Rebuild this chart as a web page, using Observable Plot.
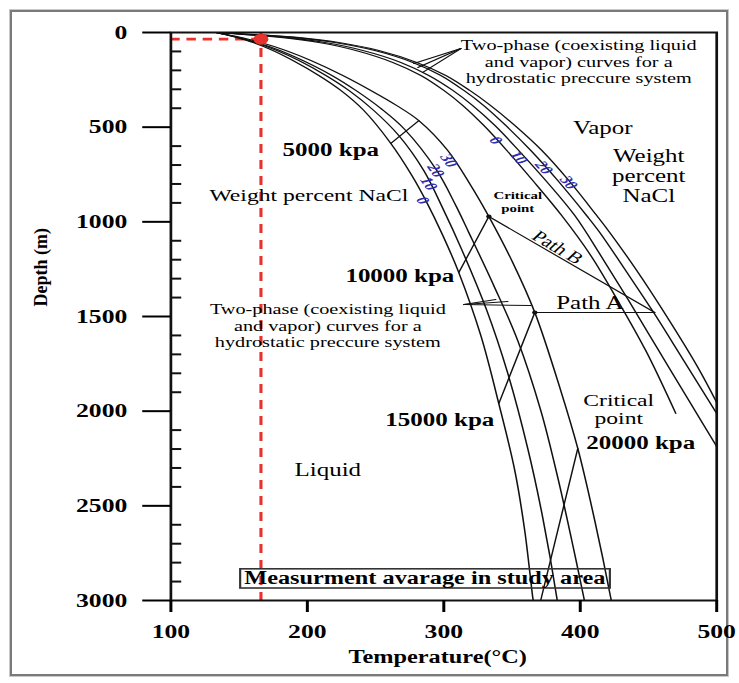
<!DOCTYPE html>
<html><head><meta charset="utf-8">
<script src="https://cdn.jsdelivr.net/npm/d3@7"></script>
<script src="https://cdn.jsdelivr.net/npm/@observablehq/plot@0.6"></script>
<style>
html,body{margin:0;padding:0;background:#fff;}
#wrap{position:relative;width:739px;height:683px;overflow:hidden;background:#fff;}
#border{position:absolute;left:10px;top:10px;width:714px;height:662px;border:2px solid #7a7a7a;box-shadow:0 0 0 1px #c8c8c8;}
#chart{position:absolute;left:0;top:0;width:739px;}
</style></head><body>
<div id="wrap"><div id="border"></div><div id="chart"></div></div>
<script>
// ---- axis ticks ----
const xTicks = [100, 200, 300, 400, 500];
const yTicks = [0, 500, 1000, 1500, 2000, 2500, 3000];
const yMinorTicks = [100,200,300,400,600,700,800,900,1100,1200,1300,1400,1600,1700,1800,1900,2100,2200,2300,2400,2600,2700,2800,2900];

// ---- boiling-point curves, liquid side: [temperature °C, depth m] ----
const liquid0  = [[133,0],[145.4,21],[160.1,53],[174.7,95],[189.4,148],[208.4,227],[224.5,306],[241.4,412],[261.2,586],[276.6,755],[286.8,887],[299.3,1072],[311.0,1268],[327.1,1600],[340.3,1960],[352.0,2313],[359.3,2630],[365.2,2984],[365.6,3000]];
const liquid10 = [[133,0],[146.2,21],[161.5,53],[177.7,95],[193.8,148],[213.6,227],[230.4,306],[248.7,412],[267.0,544],[285.3,729],[300.0,940],[312.5,1136],[331.5,1468],[346.9,1801],[361.5,2197],[372.5,2562],[382.8,2984],[383.1,3000]];
const liquid20 = [[133,0],[146.9,21],[163.0,53],[179.9,95],[196.7,148],[218.0,227],[235.5,306],[253.8,401],[270.7,507],[294.9,729],[308.8,914],[318.3,1056],[336.6,1336],[354.2,1627],[371.1,1997],[383.5,2350],[393.8,2683],[402.6,2984],[403.0,3000]];
const liquid30 = [[133,0],[148.4,21],[165.9,53],[184.2,95],[202.6,148],[226.0,227],[246.5,306],[265.6,386],[281.7,465],[302.9,623],[319.8,808],[333.0,972],[350.5,1215],[366.7,1479],[385.7,1891],[398.2,2197],[410.6,2577],[422.3,2984],[422.7,3000]];

// ---- two-phase curves, vapor side ----
const vapor0  = [[133,0],[154.9,11],[180.6,26],[208.4,53],[235.5,95],[262.6,158],[283.2,227],[300.0,306],[314.0,386],[329.3,491],[346.2,623],[365.2,782],[386.4,967],[407.7,1178],[427.5,1416],[448.0,1680],[470.0,2012]];
const vapor10 = [[133,0],[157.1,11],[184.2,26],[212.8,53],[240.7,95],[268.5,158],[289.0,227],[306.6,306],[321.2,386],[337.4,491],[354.9,623],[374.7,782],[396.0,967],[415.0,1178],[435.5,1416],[457.5,1680],[479.6,1944],[500,2187]];
const vapor20 = [[133,0],[160.1,11],[190.1,26],[220.1,53],[249.4,95],[277.3,158],[297.8,227],[314.7,306],[329.3,386],[345.4,491],[363.7,623],[383.5,782],[404.7,967],[414.3,1056],[433.3,1257],[453.8,1479],[475.8,1732],[500,2012]];
const vapor30 = [[133,0],[161.5,11],[192.3,26],[223.1,53],[252.4,95],[280.2,158],[301.5,227],[319.0,306],[334.4,386],[352.0,491],[371.8,623],[391.6,782],[412.1,967],[421.6,1056],[441.4,1257],[459.7,1458],[485.4,1759],[500,1954]];

// ---- isobars and paths ----
const isobar5000  = [[261.2,586],[281.7,465]];
const isobar10000 = [[311.0,1268],[333.0,972]];
const isobar15000 = [[340.3,1960],[366.7,1479]];
const isobar20000 = [[371,3000],[398.2,2197]];
const pathB = [[333.0,972],[454.6,1479]];
const pathA = [[366.7,1479],[454.6,1479]];
const pointerTop = [[[312.5,85],[278,164]],[[312.5,85],[281,185]],[[312.5,85],[284.6,211]]];
const pointerLow = [[[314.7,1437],[363.7,1442]],[[314.7,1437],[338.1,1410]],[[314.7,1437],[346.9,1421]]];
const criticalPoints = [[333.0,972],[366.7,1479]];

// ---- study-area measurement ----
const studyTemperature = [166];
const studyDepth = [35];

// ---- labels [text, temperature, depth] ----
const blueLiquidLabels = [["30",303.7,676],["20",294.1,729],["10",289.0,798],["0",284.6,887]];
const blueVaporLabels  = [["0",338.1,570],["10",354.9,660],["20",373.3,713],["30",391.6,792]];
const pressureLabels = [["5000 kpa",217.2,623],["10000 kpa",267.8,1289],["15000 kpa",297.1,2049],["20000 kpa",444.3,2166]];
const twoPhaseLabels = [["Two-phase (coexisting liquid\nand vapor) curves for a\nhydrostatic preccure system",398.9,153],
                        ["Two-phase (coexisting liquid\nand vapor) curves for a\nhydrostatic preccure system",215.0,1548]];
const regionLabels = [["Vapor",416.5,507],["Liquid",215.0,2313],["Path A",407,1431]];
const weightLabelRight = [["Weight\npercent\nNaCl",450.2,755]];
const weightLabelLeft = [["Weight percent NaCl",201.1,861]];
const criticalSmall = [["Critical\npoint",354.2,893]];
const criticalLarge = [["Critical\npoint",428.2,1991]];
const pathBLabel = [["Path B",383.5,1136]];
const studyAreaLabel = [["Measurment avarage in study area",286.1,2884]];

// ---- build tables ----
const K = 1.351;           // horizontal stretch of the reference picture
const W = 547, H = 683;
const mL = 126, mR = 17, mT = 32, mB = 83;
const frameW = W - mL - mR;

const rows = (groups) => groups.flatMap(([id, pts]) => pts.map(([T, D]) => ({id, T, D})));
const curveRows = rows([["l0",liquid0],["l10",liquid10],["l20",liquid20],["l30",liquid30],
                        ["v0",vapor0],["v10",vapor10],["v20",vapor20],["v30",vapor30]]);
const segRows = rows([["i5",isobar5000],["i10",isobar10000],["i15",isobar15000],["i20",isobar20000],
                      ["pb",pathB],["pa",pathA],
                      ...pointerTop.map((p,i)=>["pt"+i,p]), ...pointerLow.map((p,i)=>["pl"+i,p])]);
const lab = (arr) => arr.map(([text,T,D]) => ({text,T,D}));
const font = "'Liberation Serif', 'Times New Roman', serif";
const red = "#e8322b";
const blue = "#2c2cb0";
const txt = (arr, o) => Plot.text(lab(arr), {x: "T", y: "D", text: "text", fontFamily: font, fill: "black", ...o});

const svg = Plot.plot({
  width: W, height: H,
  marginLeft: mL, marginRight: mR, marginTop: mT, marginBottom: mB,
  style: {fontFamily: font, background: "transparent", overflow: "visible", color: "black"},
  x: {domain: [100, 500]},
  y: {domain: [0, 3000], reverse: true},
  marks: [
    Plot.ruleX(studyTemperature, {stroke: red, strokeWidth: 2.3, strokeDasharray: "9,7"}),
    Plot.ruleY(studyDepth, {x1: xTicks[0], x2: studyTemperature[0], stroke: red, strokeWidth: 2.6, strokeDasharray: "7,5"}),
    Plot.line(curveRows, {x: "T", y: "D", z: "id", curve: "catmull-rom", stroke: "#111", strokeWidth: 1.15}),
    Plot.line(segRows, {x: "T", y: "D", z: "id", stroke: "#111", strokeWidth: 1.1}),
    Plot.dot(criticalPoints, {x: d => d[0], y: d => d[1], r: 2, fill: "#111"}),
    Plot.dot(studyTemperature, {x: d => d, y: () => studyDepth[0], r: 5.5, fill: red}),
    Plot.ruleY(yMinorTicks, {insetRight: frameW - 11 / K, strokeWidth: 2, stroke: "#111"}),
    Plot.frame({stroke: "#111", strokeWidth: 2}),
    Plot.axisY(yTicks, {anchor: "left", tickSize: 28 / K, tickPadding: 11.5, tickFormat: d => String(d), fontSize: 19, fontWeight: "bold", fontFamily: font, strokeWidth: 2, label: null}),
    Plot.axisX(xTicks, {anchor: "bottom", tickSize: 12, tickPadding: 12, tickFormat: d => String(d), fontSize: 19, fontWeight: "bold", fontFamily: font, strokeWidth: 2.2, label: null}),
    Plot.text(["Temperature(°C)"], {text: d => d, frameAnchor: "bottom", dx: -4.5, dy: 62, fontSize: 18, fontWeight: "bold", fontFamily: font}),
    Plot.text(["Depth (m)"], {text: d => d, frameAnchor: "left", dx: -95.7, dy: -10, rotate: -90, fontSize: 18, fontWeight: "bold", fontFamily: font}),
    txt(twoPhaseLabels, {fontSize: 15, lineHeight: 1.1}),
    txt(pressureLabels, {fontSize: 18.5, fontWeight: "bold"}),
    txt(regionLabels, {fontSize: 18.5}),
    txt(weightLabelRight, {fontSize: 18.5, lineHeight: 1.08}),
    txt(weightLabelLeft, {fontSize: 17.5}),
    txt(criticalSmall, {fontSize: 11, fontWeight: "bold", lineHeight: 1.1}),
    txt(criticalLarge, {fontSize: 17.5, lineHeight: 1.03}),
    txt(pathBLabel, {fontSize: 16, rotate: 38}),
    txt(studyAreaLabel, {fontSize: 18, fontWeight: "bold"}),
    txt(blueLiquidLabels, {fontSize: 13, fontWeight: "bold", fontStyle: "italic", fill: blue, rotate: 62}),
    txt(blueVaporLabels, {fontSize: 13, fontWeight: "bold", fontStyle: "italic", fill: blue, rotate: 56})
  ]
});
svg.style.transform = `scaleX(${K})`;
svg.style.transformOrigin = "0 0";
svg.style.maxWidth = "none";
document.getElementById("chart").appendChild(svg);

// box around the study-area label, and keep the rotated axis title unstretched
const texts = [...svg.querySelectorAll("text")];
const boxText = texts.find(e => e.textContent === studyAreaLabel[0][0]);
if (boxText) {
  const b = boxText.getBBox();
  const r = document.createElementNS("http://www.w3.org/2000/svg", "rect");
  r.setAttribute("x", b.x - 3); r.setAttribute("y", b.y + 0.5);
  r.setAttribute("width", b.width + 6); r.setAttribute("height", b.height - 1);
  r.setAttribute("fill", "none"); r.setAttribute("stroke", "#333"); r.setAttribute("stroke-width", 1.6);
  const tr = boxText.getAttribute("transform"); if (tr) r.setAttribute("transform", tr);
  boxText.parentNode.insertBefore(r, boxText);
}
const depthText = texts.find(e => e.textContent === "Depth (m)");
if (depthText) {
  const tr = depthText.getAttribute("transform") || "";
  if (tr.includes("rotate")) depthText.setAttribute("transform", tr + ` scale(1,${1 / K})`);
}
</script></body></html>
